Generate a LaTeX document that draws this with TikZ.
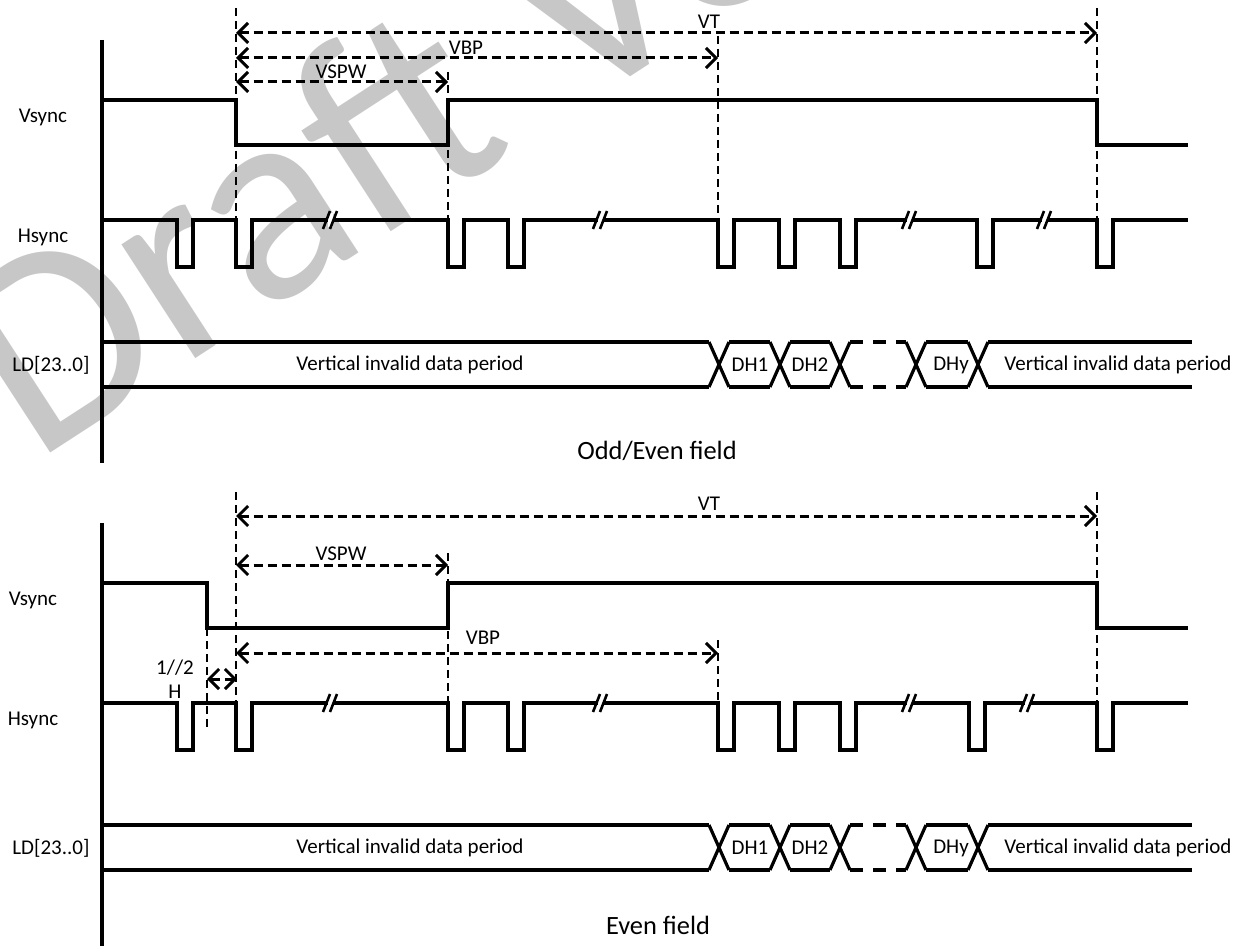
\documentclass[tikz,border=0pt]{standalone}
\usepackage{fontspec}
\setmainfont{Carlito}
\usetikzlibrary{arrows.meta}
\begin{document}
\begin{tikzpicture}[x=0.5pt,y=-0.5pt,
    sig/.style={line width=1.6pt},
    guide/.style={line width=1.2pt,dash pattern=on 4pt off 2.5pt},
    span/.style={line width=1.5pt,dash pattern=on 4.5pt off 2.5pt,
        {Straight Barb[length=5pt,width=10pt]}-{Straight Barb[length=5pt,width=10pt]}},
    lbl/.style={font=\fontsize{10.5}{12}\selectfont,inner sep=0pt},
    fieldcap/.style={font=\fontsize{13.2}{15}\selectfont,inner sep=0pt}]
    \useasboundingbox (0,0) rectangle (1247,946);
    %watermark
    \begin{scope}
        \clip (0,0) rectangle (1247,946);
        \node[anchor=base west,rotate=33,text=black!22,inner sep=0pt,
            font=\fontsize{142}{142}\selectfont] (wm) at (34,464) {Draft Version};
    \end{scope}
    %guide lines, odd/even field
    \draw[guide] (236,8) -- (236,220);
    \draw[guide] (448,72) -- (448,220);
    \draw[guide] (718,36) -- (718,220);
    \draw[guide] (1097,8) -- (1097,220);
    %guide lines, even field
    \draw[guide] (236,492) -- (236,704);
    \draw[guide] (207,628) -- (207,727);
    \draw[guide] (448,553) -- (448,704);
    \draw[guide] (718,640) -- (718,704);
    \draw[guide] (1097,492) -- (1097,704);
    %draw spans
    \draw[span] (236,33) -- (1097,33);
    \draw[span] (236,58) -- (718,58);
    \draw[span] (236,82) -- (448,82);
    \draw[span] (236,516) -- (1097,516);
    \draw[span] (236,565) -- (448,565);
    \draw[span] (236,653) -- (718,653);
    \draw[span] (207,679) -- (237,679);
    \node[lbl] (vt1) at (709,22) {VT};
    \node[lbl] (vbp1) at (466,48) {VBP};
    \node[lbl] (vspw1) at (341,72) {VSPW};
    \node[lbl] (vt2) at (709,504) {VT};
    \node[lbl] (vspw2) at (341,554) {VSPW};
    \node[lbl] (vbp2) at (483,638) {VBP};
    \node[lbl] (half) at (175,668) {1//2};
    \node[lbl] (hunit) at (175,692) {H};
    %draw both fields
    \foreach \dy/\lx/\fall/\pa/\ba in {0/43/236/977/1047,483/33/207/969/1030}
    {%
        \begin{scope}[shift={(0,\dy)}]
            %axis
            \draw[sig] (102,40) -- (102,463);
            %vsync
            \draw[sig] (102,100) -- (\fall,100) -- (\fall,145) -- (448,145) -- (448,100)
                -- (1097,100) -- (1097,145) -- (1188,145);
            %hsync
            \draw[sig] (102,220) foreach \p in {177,236,448,508,718,779,840,\pa,1097}
                { -- (\p,220) -- (\p,267) -- (\p+16,267) -- (\p+16,220) } -- (1188,220);
            \foreach \b in {333,603,912,\ba}
                {%
                    \fill[white] (\b-5,213) rectangle (\b,227);
                    \draw[sig,line width=1.3pt] (\b-10,229) -- (\b-3,211) (\b-3,229) -- (\b+4,211);
                }
            %data bus
            \foreach \c in {719,780,840,916,978}
                \draw[sig] (\c-10,342) -- (\c+10,387) (\c-10,387) -- (\c+10,342);
            \foreach \a/\b in {102/709,729/770,790/830,926/968,988/1192}
                \draw[sig] (\a,342) -- (\b,342) (\a,387) -- (\b,387);
            \draw[sig,dash pattern=on 6.5pt off 5pt] (850,342) -- (906,342) (850,387) -- (906,387);
            %labels
            \node[lbl] (vs\dy) at (\lx,117) {Vsync};
            \node[lbl] (hs\dy) at (\lx,237) {Hsync};
            \node[lbl] (ld\dy) at (51,365) {LD[23..0]};
            \node[lbl] (inv\dy) at (410,365) {Vertical invalid data period};
            \node[lbl] (dha\dy) at (750,365) {DH1};
            \node[lbl] (dhb\dy) at (810,365) {DH2};
            \node[lbl] (dhy\dy) at (951,365) {DHy};
            \node[lbl] (invb\dy) at (1118,365) {Vertical invalid data period};
        \end{scope}
    }
    \node[fieldcap] (odd) at (657,451) {Odd/Even field};
    \node[fieldcap] (even) at (658,925) {Even field};
\end{tikzpicture}
\end{document}
